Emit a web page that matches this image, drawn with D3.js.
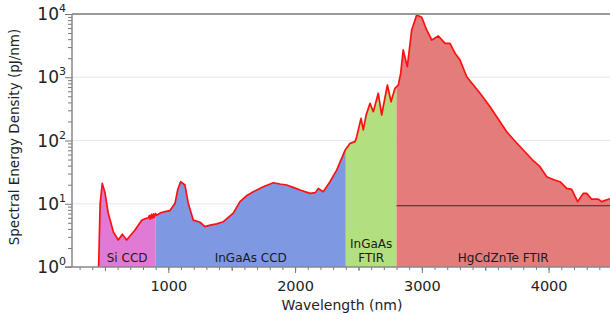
<!DOCTYPE html>
<html>
<head>
<meta charset="utf-8">
<script src="https://cdn.jsdelivr.net/npm/d3@7"></script>
<style>
  body { margin: 0; background: #fff; }
  svg { display: block; font-family: "DejaVu Sans", sans-serif; }
</style>
</head>
<body>
<div class="chart"></div>
<script>
// wavelength (nm) and spectral energy density (pJ/nm)
var wavelength = [450, 462, 479, 500, 526, 566, 605, 637, 671, 737, 790, 815, 842, 850, 858, 866, 874, 882, 890, 898, 908, 940, 973,
  1013, 1053, 1075, 1097, 1131, 1157, 1197, 1250, 1289, 1330, 1381, 1434, 1512, 1565, 1620, 1670, 1749,
  1828, 1880, 1934, 1990, 2039, 2118, 2160, 2183, 2200, 2222, 2275, 2328, 2394, 2433, 2473, 2486, 2520,
  2538, 2560, 2591, 2617, 2656, 2683, 2728, 2757, 2788, 2814, 2833, 2853, 2885, 2920, 2959, 2999, 3038,
  3078, 3130, 3183, 3222, 3262, 3301, 3354, 3400, 3459, 3538, 3643, 3669, 3730, 3800, 3870, 3932, 3985,
  4040, 4090, 4143, 4182, 4229, 4274, 4300, 4340, 4392, 4419, 4471, 4500]
var energy = [1, 10, 21, 15, 7.1, 3.6, 2.67, 3.3, 2.67, 3.85, 5.5, 5.8, 6.0, 6.5, 5.7, 6.8, 5.9, 6.9, 6.1, 7.0, 6.6, 7.2, 7.5,
  7.8, 10.2, 17, 22.3, 19.8, 10.2, 5.5, 5.1, 4.35, 4.6, 4.8, 5.2, 7.1, 10.8, 13.5, 15.5, 18.6,
  21.5, 20.5, 19.8, 18, 16.5, 14.6, 15, 17.5, 16.5, 15.5, 22.3, 34, 70, 90, 96, 115, 224,
  147, 250, 387, 285, 557, 253, 754, 410, 668, 754, 1150, 2700, 1470, 5590, 9640, 8870, 5590,
  3880, 4490, 3440, 3440, 2390, 1870, 1020, 780, 557, 342, 165, 138, 100, 70.7, 50, 38.5, 26.8,
  24, 22.3, 17.5, 16.9, 10.8, 14.6, 14.6, 11.8, 11.8, 10.8, 11.8, 12]

// detector ranges
var detectors = ["Si CCD", "InGaAs CCD", "InGaAs\nFTIR", "HgCdZnTe FTIR"]
var detectorStart = [450, 900, 2400, 2800]
var detectorEnd = [900, 2400, 2800, 4500]
var detectorColors = ["#e07ad4", "#7f98e2", "#b2e07e", "#e47c7c"]

// horizontal reference level in the HgCdZnTe range
var refLevel = 9.3
var refStart = 2800

var xMajor = [1000, 2000, 3000, 4000]
var yDecades = [1, 10, 100, 1000, 10000]

var width = 610, height = 320
var margin = {left: 72, top: 14, right: 0, bottom: 53}

var data = wavelength.map(function(w, i) { return {w: w, v: energy[i]} })

var x = d3.scaleLinear().domain([240, 4500]).range([margin.left, 612])
var y = d3.scaleLog().domain([1, 10000]).range([height - margin.bottom, margin.top])

var svg = d3.select('.chart').append('svg')
  .attr('width', width)
  .attr('height', height)

// light gridlines
svg.selectAll('.grid')
  .data([10, 100, 1000])
  .enter().append('line')
  .attr('x1', x(240)).attr('x2', width)
  .attr('y1', function(d) { return y(d) }).attr('y2', function(d) { return y(d) })
  .attr('stroke', '#e4e6f2').attr('stroke-width', 1)

var area = d3.area()
  .x(function(d) { return x(d.w) })
  .y0(y(1))
  .y1(function(d) { return y(d.v) })

var defs = svg.append('defs')
detectors.forEach(function(name, i) {
  defs.append('clipPath').attr('id', 'clip' + i)
    .append('rect')
    .attr('x', x(detectorStart[i]))
    .attr('y', 0)
    .attr('width', x(detectorEnd[i]) - x(detectorStart[i]))
    .attr('height', height)

  svg.append('path')
    .datum(data)
    .attr('d', area)
    .attr('fill', detectorColors[i])
    .attr('clip-path', 'url(#clip' + i + ')')
})

// reference line
svg.append('line')
  .attr('x1', x(refStart)).attr('x2', width)
  .attr('y1', y(refLevel)).attr('y2', y(refLevel))
  .attr('stroke', '#4a2222').attr('stroke-width', 1)

// spectrum outline
var line = d3.line()
  .x(function(d) { return x(d.w) })
  .y(function(d) { return y(d.v) })

svg.append('path')
  .datum(data)
  .attr('d', line)
  .attr('fill', 'none')
  .attr('stroke', '#ff1010')
  .attr('stroke-width', 1.7)
  .attr('stroke-linejoin', 'round')

// detector labels
detectors.forEach(function(name, i) {
  var lines = name.split('\n')
  var cx = (x(detectorStart[i]) + Math.min(x(detectorEnd[i]), width)) / 2
  var t = svg.append('text')
    .attr('x', cx)
    .attr('text-anchor', 'middle')
    .style('font-size', '12px')
    .style('fill', '#1a1a1a')
  lines.forEach(function(l, j) {
    t.append('tspan')
      .attr('x', cx)
      .attr('y', y(1) - 5 - (lines.length - 1 - j) * 14)
      .text(l)
  })
})

// x axis
var xAxisG = svg.append('g').attr('transform', 'translate(0,' + y(1) + ')')
xAxisG.append('g')
  .call(d3.axisBottom(x).tickValues(d3.range(300, 4501, 100)).tickSize(3).tickFormat(''))
xAxisG.append('g')
  .call(d3.axisBottom(x).tickValues([500, 1500, 2500, 3500, 4500]).tickSize(4).tickFormat(''))
xAxisG.append('g')
  .call(d3.axisBottom(x).tickValues(xMajor).tickSize(6).tickPadding(8).tickFormat(d3.format('d')))
xAxisG.selectAll('.domain').remove()
xAxisG.selectAll('line').attr('stroke', '#777')
xAxisG.selectAll('text').style('font-size', '14.5px').style('fill', '#222')
  .style('font-family', '"DejaVu Sans", sans-serif')

// y axis
var minorY = []
yDecades.slice(0, -1).forEach(function(d) {
  for (var k = 2; k < 10; k++) minorY.push(d * k)
})
var yAxisG = svg.append('g').attr('transform', 'translate(' + margin.left + ',0)')
yAxisG.append('g')
  .call(d3.axisLeft(y).tickValues(minorY).tickSize(4).tickFormat(''))
yAxisG.append('g')
  .call(d3.axisLeft(y).tickValues(yDecades).tickSize(7).tickFormat(''))
yAxisG.selectAll('.domain').remove()
yAxisG.selectAll('line').attr('stroke', '#777')

yDecades.forEach(function(d) {
  svg.append('text')
    .attr('x', 59)
    .attr('y', y(d) + 6)
    .attr('text-anchor', 'end')
    .style('font-size', '17px')
    .style('fill', '#222')
    .text('10')
  svg.append('text')
    .attr('x', 59)
    .attr('y', y(d) - 2)
    .style('font-size', '11px')
    .style('fill', '#222')
    .text(Math.round(Math.log10(d)))
})

// axis frame lines
svg.append('line')
  .attr('x1', margin.left).attr('x2', margin.left)
  .attr('y1', y(10000)).attr('y2', y(1))
  .attr('stroke', '#888').attr('stroke-width', 1.5)
svg.append('line')
  .attr('x1', 65).attr('x2', width)
  .attr('y1', y(1)).attr('y2', y(1))
  .attr('stroke', '#888').attr('stroke-width', 1.5)
svg.append('line')
  .attr('x1', margin.left).attr('x2', width)
  .attr('y1', y(10000)).attr('y2', y(10000))
  .attr('stroke', '#999').attr('stroke-width', 2)

// axis titles
svg.append('text')
  .attr('x', 342)
  .attr('y', 310)
  .attr('text-anchor', 'middle')
  .style('font-size', '14px')
  .style('fill', '#222')
  .text('Wavelength (nm)')

svg.append('text')
  .attr('transform', 'translate(19,137) rotate(-90)')
  .attr('text-anchor', 'middle')
  .style('font-size', '13.5px')
  .style('fill', '#222')
  .text('Spectral Energy Density (pJ/nm)')
</script>
</body>
</html>
